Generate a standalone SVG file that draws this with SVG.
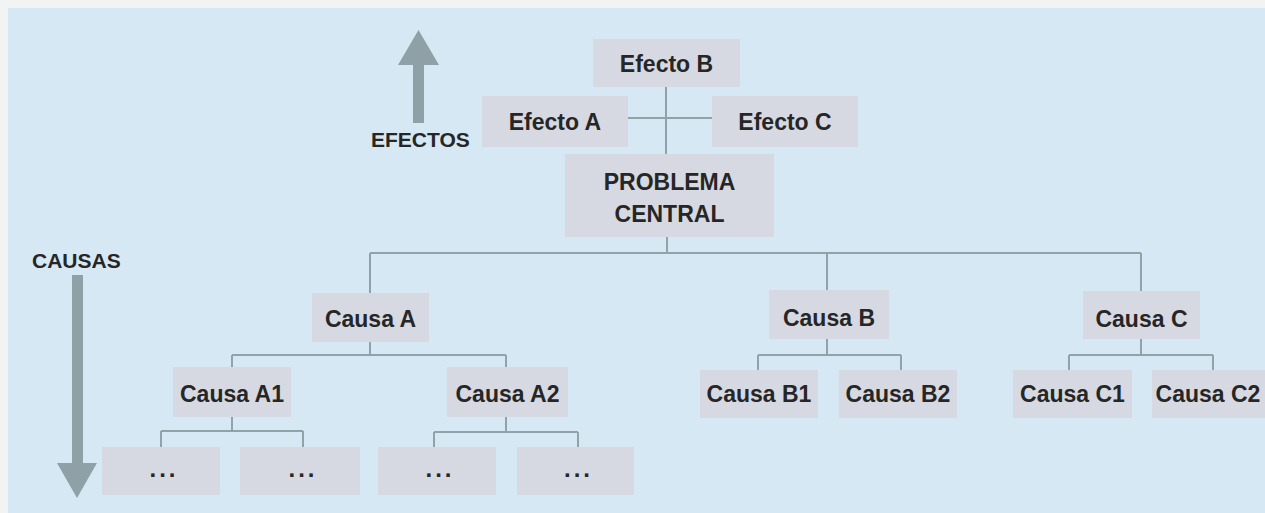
<svg xmlns="http://www.w3.org/2000/svg" width="1265" height="513" viewBox="0 0 1265 513">
<style>
.bx{fill:#d6d9e1}
.t{font-family:"Liberation Sans",Arial,sans-serif;font-weight:bold;font-size:23px;fill:#262626;text-anchor:middle}
.d{font-family:"Liberation Sans",Arial,sans-serif;font-weight:bold;font-size:24px;fill:#262626;text-anchor:middle;letter-spacing:3px}
.lb{font-family:"Liberation Sans",Arial,sans-serif;font-weight:bold;font-size:21px;fill:#262626}
.c{stroke:#8fa3a9;stroke-width:2;fill:none}
.ar{fill:#8fa1a6}
</style>
<rect x="0" y="0" width="1265" height="513" fill="#f2f4f4"/>
<rect x="8" y="8" width="1257" height="505" fill="#d7e8f5"/>
<g id="connectors">
<path class="c" d="M666 87V154M628 118H712"/>
<path class="c" d="M667 237V253M370 253H1141M370 253V293M827 253V290M1141 253V291"/>
<path class="c" d="M370 342V355M232 355H506M232 355V367M506 355V367"/>
<path class="c" d="M232 417V431M161 431H303M161 431V447M303 431V447"/>
<path class="c" d="M506 417V432M434 432H578M434 432V447M578 432V447"/>
<path class="c" d="M827 339V355M758 355H901M758 355V370M901 355V370"/>
<path class="c" d="M1141 339V355M1069 355H1213M1069 355V370M1213 355V370"/>
</g>
<g id="efectos-label">
<path class="ar" d="M413 123V65H398L418.5 30L439 65H424V123Z"/>
<text class="lb" x="371" y="147">EFECTOS</text>
</g>
<g id="causas-label">
<path class="ar" d="M72 275H83V463H97L77 498L57 463H72Z"/>
<text class="lb" x="32" y="268">CAUSAS</text>
</g>
<g id="efecto-b"><rect class="bx" x="593" y="39" width="147" height="48"/><text class="t" x="666.5" y="72">Efecto B</text></g>
<g id="efecto-a"><rect class="bx" x="482" y="96" width="146" height="51"/><text class="t" x="555" y="130">Efecto A</text></g>
<g id="efecto-c"><rect class="bx" x="712" y="96" width="146" height="51"/><text class="t" x="785" y="130">Efecto C</text></g>
<g id="problema-central"><rect class="bx" x="565" y="154" width="209" height="83"/><text class="t" x="669.5" y="190">PROBLEMA</text><text class="t" x="669.5" y="222">CENTRAL</text></g>
<g id="causa-a"><rect class="bx" x="312" y="293" width="117" height="49"/><text class="t" x="370.5" y="327">Causa A</text></g>
<g id="causa-b"><rect class="bx" x="769" y="290" width="120" height="49"/><text class="t" x="829" y="326">Causa B</text></g>
<g id="causa-c"><rect class="bx" x="1083" y="291" width="117" height="48"/><text class="t" x="1141.5" y="327">Causa C</text></g>
<g id="causa-a1"><rect class="bx" x="173" y="367" width="118" height="50"/><text class="t" x="232" y="402">Causa A1</text></g>
<g id="causa-a2"><rect class="bx" x="447" y="367" width="121" height="50"/><text class="t" x="507.5" y="402">Causa A2</text></g>
<g id="causa-b1"><rect class="bx" x="700" y="370" width="118" height="48"/><text class="t" x="759" y="402">Causa B1</text></g>
<g id="causa-b2"><rect class="bx" x="839" y="370" width="118" height="48"/><text class="t" x="898" y="402">Causa B2</text></g>
<g id="causa-c1"><rect class="bx" x="1013" y="370" width="119" height="48"/><text class="t" x="1072.5" y="402">Causa C1</text></g>
<g id="causa-c2"><rect class="bx" x="1152" y="370" width="118" height="48"/><text class="t" x="1208" y="402">Causa C2</text></g>
<g id="a1-1"><rect class="bx" x="102" y="447" width="118" height="48"/><text class="d" x="164" y="477">...</text></g>
<g id="a1-2"><rect class="bx" x="240" y="447" width="120" height="48"/><text class="d" x="303" y="477">...</text></g>
<g id="a2-1"><rect class="bx" x="378" y="447" width="118" height="48"/><text class="d" x="440" y="477">...</text></g>
<g id="a2-2"><rect class="bx" x="517" y="447" width="117" height="48"/><text class="d" x="578.5" y="477">...</text></g>
</svg>
